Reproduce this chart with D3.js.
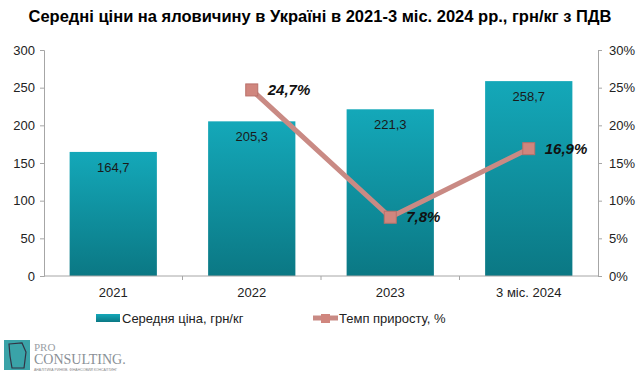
<!DOCTYPE html>
<html>
<head>
<meta charset="utf-8">
<script src="https://cdn.jsdelivr.net/npm/d3@7"></script>
<style>
  body { margin: 0; background: #fff; }
  svg { font-family: "Liberation Sans", Arial, sans-serif; }
</style>
</head>
<body>
<svg id="chart" width="640" height="376"></svg>
<script>
// дані графіка
const categories = ["2021", "2022", "2023", "3 міс. 2024"];
const prices = [164.7, 205.3, 221.3, 258.7];
const growth = [null, 24.7, 7.8, 16.9];
const leftTicks = [0, 50, 100, 150, 200, 250, 300];
const rightTicks = [0, 5, 10, 15, 20, 25, 30];

const svg = d3.select("#chart");
const margin = { top: 50, right: 42, bottom: 100, left: 44 };
const width = 640, height = 376;
const plotW = width - margin.left - margin.right;   // 554
const plotH = 276 - margin.top;                      // 226

const x = d3.scaleBand().domain(categories).range([margin.left, margin.left + plotW]).paddingInner(0.37).paddingOuter(0.185);
const xOuter = d3.scaleBand().domain(categories).range([margin.left, margin.left + plotW]);
const yL = d3.scaleLinear().domain([0, 300]).range([276, 50]);
const yR = d3.scaleLinear().domain([0, 30]).range([276, 50]);

// градієнт стовпців
const defs = svg.append("defs");
const grad = defs.append("linearGradient").attr("id", "barGrad").attr("x1", 0).attr("y1", 0).attr("x2", 0).attr("y2", 1);
grad.append("stop").attr("offset", "0%").attr("stop-color", "#14a8b9");
grad.append("stop").attr("offset", "100%").attr("stop-color", "#0b7884");

// заголовок
svg.append("text")
    .attr("x", 320).attr("y", 22)
    .attr("text-anchor", "middle")
    .style("font-size", "16.5px").style("font-weight", "bold").style("fill", "#000")
    .text("Середні ціни на яловичину в Україні в 2021-3 міс. 2024 рр., грн/кг з ПДВ");

// стовпці
svg.selectAll("rect.bar").data(prices).enter()
    .append("rect").attr("class", "bar")
    .attr("x", (d, i) => x(categories[i]))
    .attr("y", d => yL(d))
    .attr("width", x.bandwidth())
    .attr("height", d => yL(0) - yL(d))
    .style("fill", "url(#barGrad)");

svg.selectAll("text.barlab").data(prices).enter()
    .append("text").attr("class", "barlab")
    .attr("x", (d, i) => x(categories[i]) + x.bandwidth() / 2)
    .attr("y", d => yL(d) + 20)
    .attr("text-anchor", "middle")
    .style("font-size", "13px").style("fill", "#1a1a1a")
    .text(d => d.toFixed(1).replace(".", ","));

// осі
const axisColor = "#a6a6a6";
const gL = svg.append("g").attr("transform", `translate(${margin.left},0)`)
    .call(d3.axisLeft(yL).tickValues(leftTicks).tickSize(4).tickPadding(5));
const gR = svg.append("g").attr("transform", `translate(${margin.left + plotW},0)`)
    .call(d3.axisRight(yR).tickValues(rightTicks).tickSize(4).tickPadding(7).tickFormat(d => d + "%"));
const gB = svg.append("g").attr("transform", "translate(0,276)")
    .call(d3.axisBottom(xOuter).tickSize(0).tickPadding(12));
[gL, gR, gB].forEach(g => {
    g.select(".domain").attr("stroke", axisColor);
    g.selectAll(".tick line").attr("stroke", axisColor);
    g.selectAll("text").style("font-size", "13px").style("fill", "#222")
        .style("font-family", "Liberation Sans, Arial, sans-serif");
});
gB.select(".domain").attr("d", `M${margin.left},0H${margin.left + plotW}`);
// розділювачі категорій
gB.selectAll("line.sep").data(categories.slice(1)).enter()
    .append("line").attr("class", "sep")
    .attr("x1", d => xOuter(d)).attr("x2", d => xOuter(d))
    .attr("y1", 0).attr("y2", 4).attr("stroke", axisColor);

// лінія приросту
const pts = growth.map((g, i) => ({ c: categories[i], v: g })).filter(d => d.v !== null);
const cx = d => x(d.c) + x.bandwidth() / 2;
const line = d3.line().x(cx).y(d => yR(d.v));
svg.append("path").datum(pts)
    .attr("d", line)
    .attr("fill", "none")
    .attr("stroke", "#c98a84")
    .attr("stroke-width", 5)
    .attr("stroke-linejoin", "round");
svg.selectAll("rect.mark").data(pts).enter()
    .append("rect").attr("class", "mark")
    .attr("x", d => cx(d) - 6).attr("y", d => yR(d.v) - 6)
    .attr("width", 12).attr("height", 12)
    .style("fill", "#d0867e").style("stroke", "#b9706a").style("stroke-width", 1);
svg.selectAll("text.glab").data(pts).enter()
    .append("text").attr("class", "glab")
    .attr("x", d => cx(d) + 16).attr("y", d => yR(d.v) + 5)
    .style("font-size", "15px").style("font-weight", "bold").style("font-style", "italic").style("fill", "#111")
    .text(d => d.v.toFixed(1).replace(".", ",") + "%");

// легенда
const leg = svg.append("g");
leg.append("rect").attr("x", 96).attr("y", 314).attr("width", 24).attr("height", 8).style("fill", "url(#barGrad)");
leg.append("text").attr("x", 122).attr("y", 323).style("font-size", "13px").style("fill", "#222").text("Середня ціна, грн/кг");
leg.append("line").attr("x1", 313).attr("x2", 338).attr("y1", 318).attr("y2", 318).attr("stroke", "#c98a84").attr("stroke-width", 5);
leg.append("rect").attr("x", 321).attr("y", 314).attr("width", 9).attr("height", 9).style("fill", "#d0867e");
leg.append("text").attr("x", 339).attr("y", 323).style("font-size", "13px").style("fill", "#222").text("Темп приросту, %");

// логотип
const logo = svg.append("g");
logo.append("rect").attr("x", 4).attr("y", 340).attr("width", 26).attr("height", 30).style("fill", "#3aa3a8");
logo.append("path").attr("d", "M9,344 L22,343 L26,352 L24,368 L12,368 L10,356 Z")
    .attr("fill", "none").attr("stroke", "#334").attr("stroke-width", 1.2);
logo.append("text").attr("x", 34).attr("y", 351).style("font-family", "Liberation Serif, serif").style("font-size", "11px").style("fill", "#9aa0a6").text("PRO");
logo.append("text").attr("x", 34).attr("y", 364).style("font-family", "Liberation Serif, serif").style("font-size", "14px").style("fill", "#8a9096").text("CONSULTING.");
logo.append("text").attr("x", 34).attr("y", 371).style("font-size", "3.5px").style("fill", "#888").text("АНАЛІТИКА РИНКІВ. ФІНАНСОВИЙ КОНСАЛТИНГ");
</script>
</body>
</html>
